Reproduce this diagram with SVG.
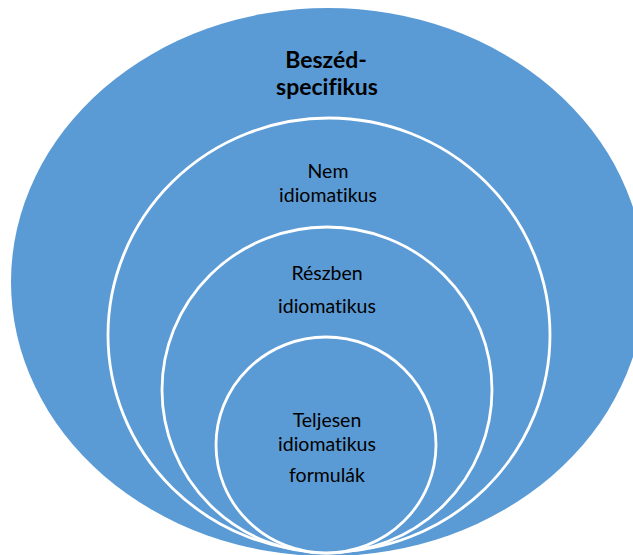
<svg xmlns="http://www.w3.org/2000/svg" width="633" height="555" viewBox="0 0 633 555">
<style>
.ring{fill:#5B9BD5;stroke:#FFFFFF;stroke-width:2.8}
.outer{fill:#5B9BD5;stroke:none}
.lbl{font-family:Lato,"Open Sans","Liberation Sans",sans-serif;font-size:19.5px;fill:#000;text-anchor:middle;font-variant-ligatures:none}
.title{font-family:Lato,"Open Sans","Liberation Sans",sans-serif;font-size:23px;font-weight:bold;fill:#000;text-anchor:middle;font-variant-ligatures:none}
</style>
<rect width="633" height="555" fill="#FFFFFF"/>
<g id="beszed-specifikus">
<ellipse class="outer" cx="328" cy="282" rx="317" ry="274"/>
<text class="title" x="326" y="68">Beszéd-</text>
<text class="title" x="327" y="95">specifikus</text>
</g>
<g id="nem-idiomatikus">
<ellipse class="ring" cx="329" cy="335" rx="221" ry="217"/>
<text class="lbl" x="328" y="178">Nem</text>
<text class="lbl" x="328" y="202">idiomatikus</text>
</g>
<g id="reszben-idiomatikus">
<ellipse class="ring" cx="327" cy="390" rx="165" ry="163"/>
<text class="lbl" x="327" y="280">Részben</text>
<text class="lbl" x="327" y="313">idiomatikus</text>
</g>
<g id="teljesen-idiomatikus">
<ellipse class="ring" cx="326" cy="445" rx="110" ry="108"/>
<text class="lbl" x="327" y="427">Teljesen</text>
<text class="lbl" x="327" y="451">idiomatikus</text>
<text class="lbl" x="327" y="482">formulák</text>
</g>
<g id="connectors"/>
</svg>
